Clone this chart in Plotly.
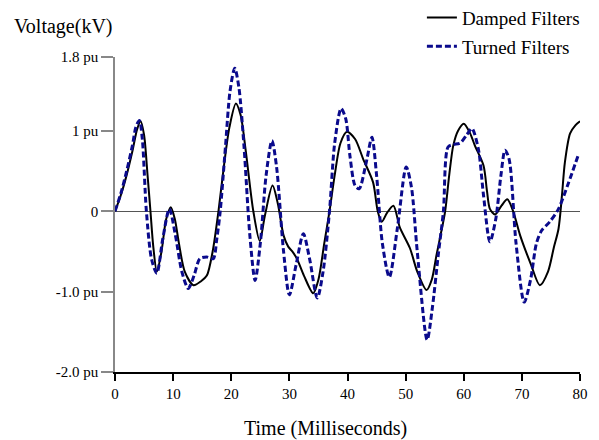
import plotly.graph_objects as go

# Damped Filters (time ms, voltage in axis units)
damped_t = [0, 1, 2, 3, 3.8, 4.4, 5.0, 5.6, 6.1, 6.6, 7.2, 8.0, 8.8, 9.6, 10.3, 11, 12, 13.5,
            14.8, 15.8, 16.8, 17.8, 18.8, 19.7, 20.8, 21.6, 22.5, 23.8, 24.9, 25.8, 27.1, 28.0,
            29.0, 29.8, 30.5, 31.3, 32.5, 34.1, 35.0, 36.0, 36.9, 37.8, 38.8, 39.9, 41.3, 42.7,
            44.4, 45.2, 45.9, 46.8, 47.9, 49.0, 50.75, 52.0, 53.6, 54.5, 55.3, 56.0, 56.8, 57.5,
            58.2, 59.0, 60.0, 61.1, 61.9, 63.4, 64.0, 64.5, 65.4, 66.5, 67.5, 68.5, 69.7, 71.5,
            73.1, 74.5, 75.5, 76.3, 76.9, 77.4, 78.3, 79.2, 80]
damped_v = [0, 0.2, 0.45, 0.75, 1.02, 1.12, 0.95, 0.45, 0, -0.45, -0.75, -0.5, -0.1, 0.05, -0.1,
            -0.4, -0.75, -0.92, -0.87, -0.8, -0.5, 0, 0.6, 1.05, 1.34, 1.2, 0.75, 0, -0.37, -0.05,
            0.32, 0.1, -0.3, -0.44, -0.5, -0.59, -0.8, -1.02, -0.85, -0.4, 0, 0.45, 0.85, 0.99,
            0.9, 0.65, 0.36, 0.0, -0.13, -0.02, 0.07, -0.2, -0.46, -0.75, -0.98, -0.85, -0.55,
            -0.3, 0, 0.45, 0.82, 1.0, 1.09, 0.97, 0.82, 0.57, 0.25, 0.03, -0.04, 0.07, 0.15, 0,
            -0.3, -0.65, -0.92, -0.75, -0.45, -0.22, 0.2, 0.61, 0.97, 1.07, 1.12]

# Turned Filters
turned_t = [0, 1, 2, 3, 3.6, 4.2, 4.7, 5.4, 6.3, 7.2, 8.2, 9.35, 10.4, 11.5, 12.6, 13.6, 14.6,
            15.8, 16.9, 17.5, 18.1, 19.0, 19.8, 20.6, 21.3, 22.2, 23.2, 24.1, 25.0, 26.0, 27.0,
            27.8, 29.0, 30.0, 31.2, 32.4, 33.5, 34.8, 35.8, 36.9, 37.8, 38.9, 39.7, 40.4, 41.3,
            42.0, 43.2, 44.2, 45.0, 46.0, 47.2, 48.6, 50.1, 51.0, 52.0, 53.7, 54.6, 55.6, 56.5,
            57.3, 58.2, 59.4, 60.5, 61.4, 62.5, 63.4, 64.5, 65.5, 66.4, 67.1, 67.8, 69.0, 70.4,
            71.5, 72.5, 73.4, 74.8, 76.3, 78.0, 79.7]
turned_v = [0, 0.22, 0.5, 0.82, 1.05, 1.13, 0.9, 0, -0.6, -0.77, -0.35, 0.03, -0.3, -0.75, -0.96,
            -0.8, -0.59, -0.57, -0.59, -0.35, 0, 0.8, 1.5, 1.78, 1.55, 0.8, -0.3, -0.86, -0.4,
            0.45, 0.88, 0.55, -0.5, -1.04, -0.65, -0.28, -0.6, -1.08, -0.75, 0, 0.85, 1.28, 1.15,
            0.7, 0.32, 0.28, 0.6, 0.92, 0.45, -0.4, -0.82, -0.2, 0.55, 0.3, -0.5, -1.6, -1.2,
            -0.55, 0, 0.8, 0.83, 0.85, 0.95, 1.03, 0.78, 0.2, -0.38, -0.1, 0.45, 0.76, 0.65,
            -0.4, -1.13, -0.85, -0.4, -0.24, -0.13, 0.03, 0.35, 0.7]

y_tickvals = [-2, -1, 0, 1, 1.92]
y_ticktext = ["-2.0 pu", "-1.0 pu", "0", "1 pu", "1.8 pu"]
x_tickvals = [0, 10, 20, 30, 40, 50, 60, 70, 80]

FONT = "Liberation Serif, Times New Roman, serif"

fig = go.Figure()
fig.add_trace(go.Scatter(x=damped_t, y=damped_v, mode="lines", name="Damped Filters",
                         line=dict(color="black", width=2, shape="spline", smoothing=0.8),
                         legendgroup="a"))
fig.add_trace(go.Scatter(x=turned_t, y=turned_v, mode="lines", name="Turned Filters",
                         line=dict(color="#0a0a8c", width=3, dash="6px,3px", shape="spline", smoothing=0.8),
                         legendgroup="b"))

fig.update_layout(
    width=599, height=440,
    margin=dict(l=115, r=19, t=57, b=68, autoexpand=False),
    plot_bgcolor="white", paper_bgcolor="white",
    font=dict(family=FONT, size=15, color="black"),
    showlegend=True,
    legend=dict(x=0.66, y=1.185, xanchor="left", yanchor="top",
                font=dict(family=FONT, size=19, color="black"),
                traceorder="grouped", tracegroupgap=1,
                bgcolor="rgba(0,0,0,0)", itemwidth=30),
    xaxis=dict(range=[0, 80], tickvals=x_tickvals, showgrid=False, zeroline=False,
               showline=True, linecolor="black", linewidth=1.5,
               ticks="outside", ticklen=7, tickcolor="black", tickwidth=1.5,
               tickfont=dict(family=FONT, size=15)),
    yaxis=dict(range=[-2, 1.92], tickvals=y_tickvals, ticktext=y_ticktext, showgrid=False,
               zeroline=True, zerolinecolor="#555555", zerolinewidth=1,
               showline=True, linecolor="#888888", linewidth=1.5,
               ticks="outside", ticklen=12, tickcolor="#888888", tickwidth=1.5,
               tickfont=dict(family=FONT, size=15)),
    annotations=[
        dict(text="Voltage(kV)", xref="paper", yref="paper", x=(12 - 115) / 465, y=(372 - 27) / 315,
             xanchor="left", yanchor="middle", showarrow=False,
             font=dict(family=FONT, size=20, color="black")),
        dict(text="Time (Milliseconds)", xref="paper", yref="paper", x=(325 - 115) / 465,
             y=(372 - 428) / 315, xanchor="center", yanchor="middle", showarrow=False,
             font=dict(family=FONT, size=20, color="black")),
    ],
)

fig.write_html("out.html", config={"displayModeBar": False},
               post_script="document.body.style.margin='0';")
